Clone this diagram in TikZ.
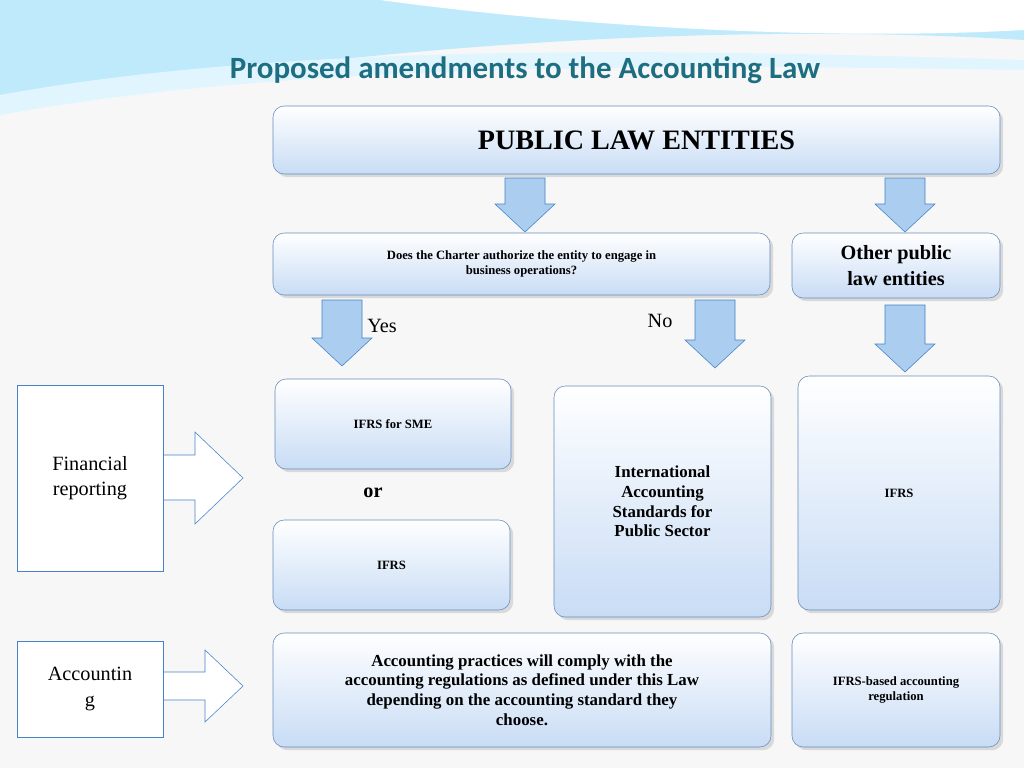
\documentclass[tikz,border=0pt]{standalone}
\usepackage{fontspec}
\setmainfont{Liberation Serif}
\newfontfamily\titlefont{Carlito}
\usetikzlibrary{shadows}
\definecolor{titleteal}{RGB}{30,110,130}
\definecolor{boxline}{RGB}{100,140,190}
\definecolor{boxfill}{RGB}{200,220,245}
\definecolor{arrfill}{RGB}{170,205,240}
\definecolor{arrline}{RGB}{70,130,200}
\tikzset{
  panel/.style={draw=boxline, rounded corners=8pt, top color=white, bottom color=boxfill,
    drop shadow={opacity=0.25}, align=center, font=\bfseries},
  plainbox/.style={draw=arrline, fill=white, align=center, font=\Large},
  lbl/.style={font=\Large}
}
\begin{document}
\begin{tikzpicture}[x=0.025cm, y=-0.025cm]
\useasboundingbox (0,0) rectangle (1024,768);
\fill[gray!6] (0,0) rectangle (1024,768);
% top swooshes
\fill[cyan!25] (0,0) -- (1024,0) -- (1024,40) .. controls (700,20) and (300,50) .. (0,110) -- cycle;
\fill[white] (380,0) .. controls (600,30) and (850,40) .. (1024,30) -- (1024,0) -- cycle;
\fill[cyan!12] (0,95) .. controls (300,40) and (700,50) .. (1024,60) -- (1024,70) .. controls (700,65) and (300,60) .. (0,115) -- cycle;
\node[font=\titlefont\bfseries\fontsize{22}{26}\selectfont, text=titleteal] (title) at (525,70) {Proposed amendments to the Accounting Law};
% down block arrows
\newcommand{\dnarrow}[3]{%
  \draw[arrline, fill=arrfill] (#1-20,#2) -- (#1+20,#2) -- (#1+20,#3-28) -- (#1+30,#3-28)
    -- (#1,#3) -- (#1-30,#3-28) -- (#1-20,#3-28) -- cycle;}
\dnarrow{525}{178}{232}
\dnarrow{905}{178}{232}
\dnarrow{342}{300}{366}
\dnarrow{715}{300}{368}
\dnarrow{905}{305}{372}
% right block arrows
\draw[arrline, fill=white] (163,455) -- (195,455) -- (195,432) -- (243,478) -- (195,524) -- (195,500) -- (163,500) -- cycle;
\draw[arrline, fill=white] (163,672) -- (205,672) -- (205,650) -- (243,686) -- (205,722) -- (205,700) -- (163,700) -- cycle;
% panels
\node[panel, minimum width=727*0.025cm, minimum height=68*0.025cm, font=\bfseries\fontsize{20}{24}\selectfont] (entities) at (636.5,140) {PUBLIC LAW ENTITIES};
\node[panel, minimum width=497*0.025cm, minimum height=62*0.025cm, font=\bfseries\small] (charter) at (521.5,264) {Does the Charter authorize the entity to engage in\\business operations?};
\node[panel, minimum width=208*0.025cm, minimum height=65*0.025cm, font=\bfseries\Large] (other) at (896,265.5) {Other public\\law entities};
\node[lbl] (yes) at (382,326) {Yes};
\node[lbl] (no) at (660,321) {No};
\node[panel, minimum width=236*0.025cm, minimum height=90*0.025cm, font=\bfseries\small] (sme) at (393,424) {IFRS for SME};
\node[font=\bfseries\Large] (or) at (373,493) {or};
\node[panel, minimum width=237*0.025cm, minimum height=90*0.025cm, font=\bfseries\small] (ifrsa) at (391.5,565) {IFRS};
\node[panel, minimum width=217*0.025cm, minimum height=231*0.025cm, font=\bfseries\large] (ipsas) at (662.5,501.5) {International\\Accounting\\Standards for\\Public Sector};
\node[panel, minimum width=202*0.025cm, minimum height=234*0.025cm, font=\bfseries\small] (ifrsb) at (899,493) {IFRS};
\node[panel, minimum width=498*0.025cm, minimum height=114*0.025cm, font=\bfseries\large] (practice) at (522,690) {Accounting practices will comply with the\\accounting regulations as defined under this Law\\depending on the accounting standard they\\choose.};
\node[panel, minimum width=208*0.025cm, minimum height=114*0.025cm, font=\bfseries\small] (ifrsreg) at (896,690) {IFRS-based accounting\\regulation};
\node[plainbox, minimum width=146*0.025cm, minimum height=186*0.025cm] (fin) at (90,478) {Financial\\reporting};
\node[plainbox, minimum width=146*0.025cm, minimum height=96*0.025cm] (acc) at (90,689) {Accountin\\g};
\end{tikzpicture}
\end{document}
